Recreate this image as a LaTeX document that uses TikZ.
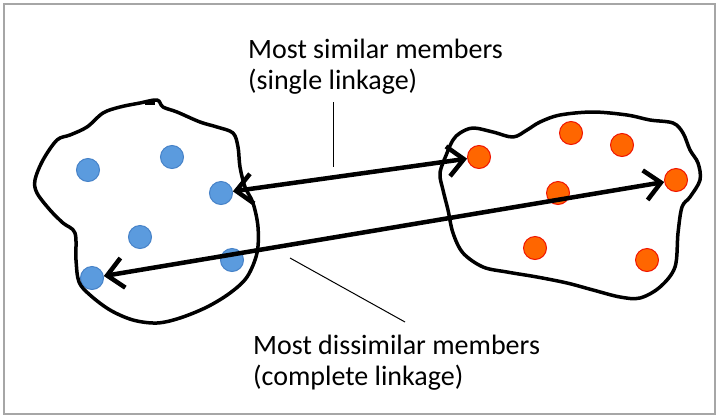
\documentclass[tikz,border=0pt]{standalone}
\usepackage{fontspec}
\setmainfont{Carlito}
\usetikzlibrary{arrows.meta}
\definecolor{dotblue}{RGB}{91,155,222}
\definecolor{dotblueedge}{RGB}{70,130,200}
\definecolor{dotred}{RGB}{255,102,0}
\definecolor{dotrededge}{RGB}{240,20,0}
\begin{document}
\begin{tikzpicture}[x=1pt,y=-1pt,
  bpoint/.style={circle,draw=dotblueedge,fill=dotblue,line width=1pt,inner sep=0pt,minimum size=23pt},
  rpoint/.style={circle,draw=dotrededge,fill=dotred,line width=1pt,inner sep=0pt,minimum size=23pt},
  blob/.style={line width=3.5pt,line join=round},
  link/.style={line width=4.5pt,{Straight Barb[length=16pt,width=30pt]}-{Straight Barb[length=16pt,width=30pt]}},
  lbl/.style={anchor=north west,inner sep=0pt,align=left,font=\fontsize{28}{31}\selectfont}]
\useasboundingbox (0,0) rectangle (719,418);
\draw[gray!70,line width=1.5pt] (4,4) rectangle (715,414);
% left cluster
\node (b1)[bpoint] at (88,170) {};
\node (b2)[bpoint] at (172,157) {};
\node (b3)[bpoint] at (221,193) {};
\node (b4)[bpoint] at (140,237) {};
\node (b5)[bpoint] at (232,260) {};
\node (b6)[bpoint] at (92,278) {};
% right cluster
\node (r1)[rpoint] at (479,157) {};
\node (r2)[rpoint] at (571,133) {};
\node (r3)[rpoint] at (622,145) {};
\node (r4)[rpoint] at (676,180) {};
\node (r5)[rpoint] at (558,193) {};
\node (r6)[rpoint] at (535,248) {};
\node (r7)[rpoint] at (647,260) {};
\draw[blob] plot[smooth cycle,tension=0.55] coordinates {(140,103) (157,100) (163,107) (177,112) (200,122) (217,127) (233,133) (238,147) (240,167) (245,187) (253,203) (258,227) (257,253) (247,277) (230,293) (207,307) (180,318) (157,323) (133,320) (110,310) (90,295) (79,282) (76,260) (75,233) (63,223) (50,210) (37,193) (35,180) (43,160) (57,140) (70,135) (87,127) (103,113) (120,107)};
\fill (145,100) rectangle (155,105);
\draw[blob] plot[smooth cycle,tension=0.55] coordinates {(453,140) (460,133) (473,128) (493,132) (513,137) (527,130) (540,122) (560,115) (593,112) (627,115) (650,120) (673,123) (683,133) (690,150) (698,163) (700,180) (690,197) (682,207) (678,233) (675,267) (660,287) (640,298) (620,297) (593,290) (567,283) (537,277) (507,272) (483,267) (463,253) (453,233) (448,210) (443,190) (440,173) (447,153)};
% linkages
\draw[link] (b3) -- (r1);
\draw[link] (b6) -- (r4);
% labels
\node (simlbl)[lbl] at (248,39) {Most similar members\\(single linkage)};
\node (dislbl)[lbl] at (253,335) {Most dissimilar members\\(complete linkage)};
\coordinate (s1) at (333,102);
\coordinate (s2) at (333,167);
\coordinate (c1) at (290,258);
\coordinate (c2) at (405,322);
\draw[line width=1pt] (s1) -- (s2);
\draw[line width=1pt] (c1) -- (c2);
\end{tikzpicture}
\end{document}
